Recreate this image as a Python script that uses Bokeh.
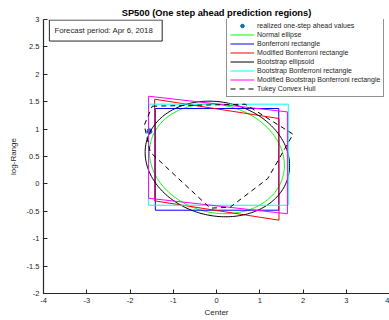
import numpy as np
from bokeh.plotting import figure
from bokeh.models import Range1d, FixedTicker, Legend, LegendItem, Label
from bokeh.embed import file_html
from bokeh.resources import INLINE

# Realized one-step ahead value (center, log-range)
realized_x = [-1.55]
realized_y = [0.96]

# Ellipses: center, half-extent in x and y, correlation-like tilt
normal_ellipse = dict(cx=0.01, cy=0.457, hx=1.56, hy=1.0, r=-0.12)
boot_ellipse = dict(cx=0.02, cy=0.455, hx=1.67, hy=1.055, r=-0.114)

# Bonferroni rectangles (x bounds, y bounds)
bonf_x = [-1.415, 1.44]
bonf_y = [-0.48, 1.376]
boot_bonf_x = [-1.57, 1.66]
boot_bonf_y = [-0.39, 1.455]

# Modified (sheared) rectangles: corners TL, TR, BR, BL
mod_bonf_x = [-1.43, 1.445, 1.445, -1.43]
mod_bonf_y = [1.545, 1.193, -0.662, -0.31]
mod_boot_x = [-1.57, 1.64, 1.64, -1.57]
mod_boot_y = [1.60, 1.314, -0.545, -0.262]

# Tukey convex hull vertices
tukey_x = [-1.485, 0.663, 1.771, 1.185, 0.316, -0.145, -1.531, -1.670]
tukey_y = [1.418, 1.454, 0.907, 0.097, -0.425, -0.443, 0.578, 1.071]

x_ticks = [-4, -3, -2, -1, 0, 1, 2, 3, 4]
y_ticks = [3, 2.5, 2, 1.5, 1, 0.5, 0, -0.5, -1, -1.5, -2]

FONT = "Liberation Sans"
TXT = "#262626"


def ellipse_pts(e, n=200):
    t = np.linspace(0, 2 * np.pi, n)
    s = np.sqrt(1 - e["r"] ** 2)
    x = e["cx"] + e["hx"] * np.cos(t)
    y = e["cy"] + e["hy"] * (e["r"] * np.cos(t) + s * np.sin(t))
    return x, y


def rect_pts(xb, yb):
    return ([xb[0], xb[1], xb[1], xb[0], xb[0]],
            [yb[1], yb[1], yb[0], yb[0], yb[1]])


def closed(xs, ys):
    return list(xs) + [xs[0]], list(ys) + [ys[0]]


p = figure(width=389, height=320, output_backend="svg", toolbar_location=None,
           x_range=Range1d(-4, 4), y_range=Range1d(-2, 3),
           title="SP500 (One step ahead prediction regions)",
           min_border_left=43, min_border_right=0, min_border_top=19,
           min_border_bottom=27)
p.outline_line_color = None
p.grid.visible = False
p.background_fill_color = "white"
p.border_fill_color = "white"

p.title.align = "center"
p.title.text_font = FONT
p.title.text_font_size = "9.3px"
p.title.text_font_style = "bold"
p.title.text_color = "black"
p.title.standoff = 4
p.title.offset = -2

for ax in (p.xaxis[0], p.yaxis[0]):
    ax.axis_line_color = TXT
    ax.axis_line_width = 1.2
    ax.major_tick_line_color = TXT
    ax.major_tick_in = 4
    ax.major_tick_out = 0
    ax.minor_tick_line_color = None
    ax.major_label_text_font = FONT
    ax.major_label_text_font_size = "7.5px"
    ax.major_label_text_color = TXT
    ax.axis_label_text_font = FONT
    ax.axis_label_text_font_size = "8px"
    ax.axis_label_text_font_style = "normal"
    ax.axis_label_text_color = TXT
    ax.major_label_standoff = 4

p.xaxis.ticker = FixedTicker(ticks=x_ticks)
p.yaxis.ticker = FixedTicker(ticks=y_ticks)
p.xaxis.major_label_overrides = {t: str(t) for t in x_ticks}
p.yaxis.major_label_overrides = {t: ("%g" % t) for t in y_ticks}
p.xaxis.axis_label = "Center"
p.yaxis.axis_label = "log-Range"
p.xaxis.axis_label_standoff = 2
p.yaxis.axis_label_standoff = 6

r_dot = p.scatter(realized_x, realized_y, size=5, color="#0072BD")

gx, gy = ellipse_pts(normal_ellipse)
r_green = p.line(gx, gy, line_color="#00ff00", line_width=1)

bx, by = rect_pts(bonf_x, bonf_y)
r_blue = p.line(bx, by, line_color="#0000ff", line_width=1)

rx, ry = closed(mod_bonf_x, mod_bonf_y)
r_red = p.line(rx, ry, line_color="#ff0000", line_width=1)

kx, ky = ellipse_pts(boot_ellipse)
r_black = p.line(kx, ky, line_color="black", line_width=1)

cx, cy = rect_pts(boot_bonf_x, boot_bonf_y)
r_cyan = p.line(cx, cy, line_color="#00ffff", line_width=1)

mx, my = closed(mod_boot_x, mod_boot_y)
r_mag = p.line(mx, my, line_color="#ff00ff", line_width=1)

hx, hy = closed(tukey_x, tukey_y)
r_tukey = p.line(hx, hy, line_color="black", line_width=1, line_dash="5 4")

legend = Legend(items=[
    LegendItem(label="realized one-step ahead values", renderers=[r_dot]),
    LegendItem(label="Normal ellipse", renderers=[r_green]),
    LegendItem(label="Bonferroni rectangle", renderers=[r_blue]),
    LegendItem(label="Modified Bonferroni rectangle", renderers=[r_red]),
    LegendItem(label="Bootstrap ellipsoid", renderers=[r_black]),
    LegendItem(label="Bootstrap Bonferroni rectangle", renderers=[r_cyan]),
    LegendItem(label="Modified Bootstrap Bonferroni rectangle", renderers=[r_mag]),
    LegendItem(label="Tukey Convex Hull", renderers=[r_tukey]),
], location=(183, 196))
legend.label_text_font = FONT
legend.label_text_font_size = "7px"
legend.label_text_color = TXT
legend.label_height = 9
legend.glyph_height = 9
legend.glyph_width = 24
legend.label_standoff = 3
legend.spacing = 0
legend.padding = 3
legend.margin = 0
legend.border_line_color = TXT
legend.border_line_width = 1
legend.background_fill_alpha = 1
p.add_layout(legend)

note = Label(x=-3.864, y=2.99, text="Forecast period: Apr 6, 2018",
             text_font=FONT, text_font_size="7.8px", text_color=TXT,
             text_align="left", text_baseline="top", anchor="top_left",
             border_line_color=TXT, border_line_width=1,
             background_fill_color="white",
             padding=dict(left=5, right=9, top=6, bottom=6))
p.add_layout(note)

open("out.html", "w").write(file_html(p, INLINE))
